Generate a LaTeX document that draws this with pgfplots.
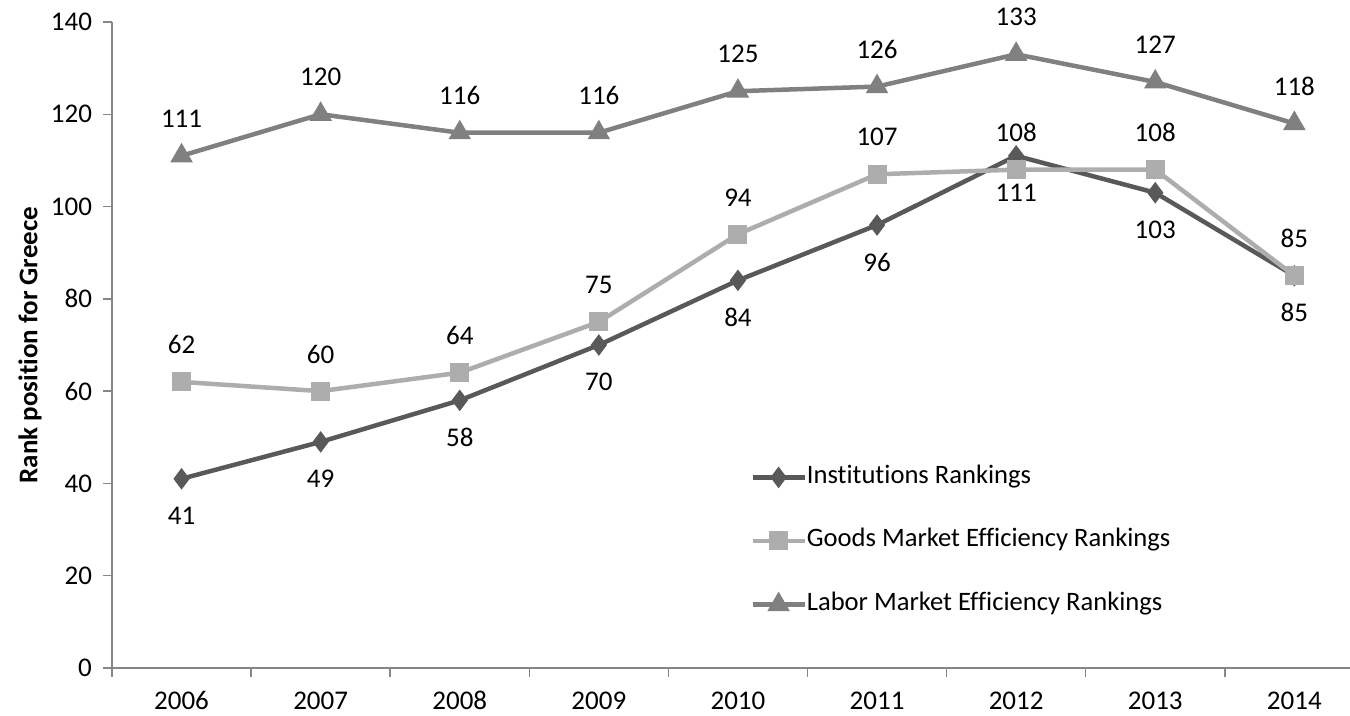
\documentclass[border=0pt]{standalone}
\usepackage{fontspec}
\setmainfont{Carlito}[Ligatures=NoCommon]
\usepackage{pgfplots}
\pgfplotsset{compat=1.18}
\definecolor{inst}{HTML}{595959}
\definecolor{goods}{HTML}{ADADAD}
\definecolor{labor}{HTML}{808080}
\definecolor{axgray}{HTML}{868686}
\newcommand{\lblfont}{\fontsize{13.5}{16}\selectfont}
\newcommand{\legfont}{\fontsize{13.3}{16}\selectfont}
\begin{document}
\begin{tikzpicture}[x=1pt,y=1pt]
\useasboundingbox (0,0) rectangle (675,358);
\clip (0,0) rectangle (675,358);
\begin{axis}[
  at={(56pt,24pt)}, anchor=south west,
  scale only axis, width=619pt, height=323pt,
  xmin=-0.5, xmax=8.4, ymin=0, ymax=140,
  clip=false,
  axis x line*=bottom, axis y line*=left,
  axis line style={axgray, line width=0.75pt},
  every tick/.style={axgray, line width=0.75pt},
  tick align=outside, major tick length=4.5pt,
  xtick={-0.5,0.5,1.5,2.5,3.5,4.5,5.5,6.5,7.5}, xticklabels={},
  extra x ticks={0,1,2,3,4,5,6,7,8},
  extra x tick labels={2006,2007,2008,2009,2010,2011,2012,2013,2014},
  extra x tick style={major tick length=0pt},
  ytick={0,20,40,60,80,100,120,140},
  tick label style={font=\lblfont, black},
  xticklabel style={text height=9pt, text depth=0pt, yshift=-8pt},
  yticklabel style={xshift=-2pt},
  /pgf/number format/assume math mode=true,
  ylabel={Rank position for Greece},
  ylabel style={font=\bfseries\lblfont, at={(axis description cs:-0.0662,0.5)}, anchor=center},
  legend style={font=\legfont, draw=none, fill=none,
    at={(axis description cs:0.5153,0.1966)}, anchor=west,
    row sep=19.8pt, inner sep=0pt,
    nodes={inner sep=0pt, text height=9pt, text depth=3pt}},
  legend cell align=left,
  legend image code/.code={\draw[#1, mark repeat=2, mark phase=2] plot coordinates {(0pt,0pt) (13pt,0pt) (26pt,0pt)};},
]
\addplot[inst, line width=2.25pt, mark=diamond*, mark size=5pt,
  mark options={line width=0.5pt, fill=inst},
  nodes near coords,
  every node near coord/.style={anchor=center, yshift=-18.5pt, black, font=\lblfont}]
  coordinates {(0,41) (1,49) (2,58) (3,70) (4,84) (5,96) (6,111) (7,103) (8,85)};
\addlegendentry{Institutions Rankings}
\addplot[goods, line width=2.25pt, mark=square*, mark size=4.5pt,
  mark options={line width=0.5pt, fill=goods},
  nodes near coords,
  every node near coord/.style={anchor=center, yshift=18.5pt, black, font=\lblfont}]
  coordinates {(0,62) (1,60) (2,64) (3,75) (4,94) (5,107) (6,108) (7,108) (8,85)};
\addlegendentry{Goods Market Efficiency Rankings}
\addplot[labor, line width=2.25pt, mark=triangle*, mark size=6pt,
  mark options={line width=0.5pt, fill=labor},
  nodes near coords,
  every node near coord/.style={anchor=center, yshift=18.5pt, black, font=\lblfont}]
  coordinates {(0,111) (1,120) (2,116) (3,116) (4,125) (5,126) (6,133) (7,127) (8,118)};
\addlegendentry{Labor Market Efficiency Rankings}
\end{axis}
\end{tikzpicture}
\end{document}
